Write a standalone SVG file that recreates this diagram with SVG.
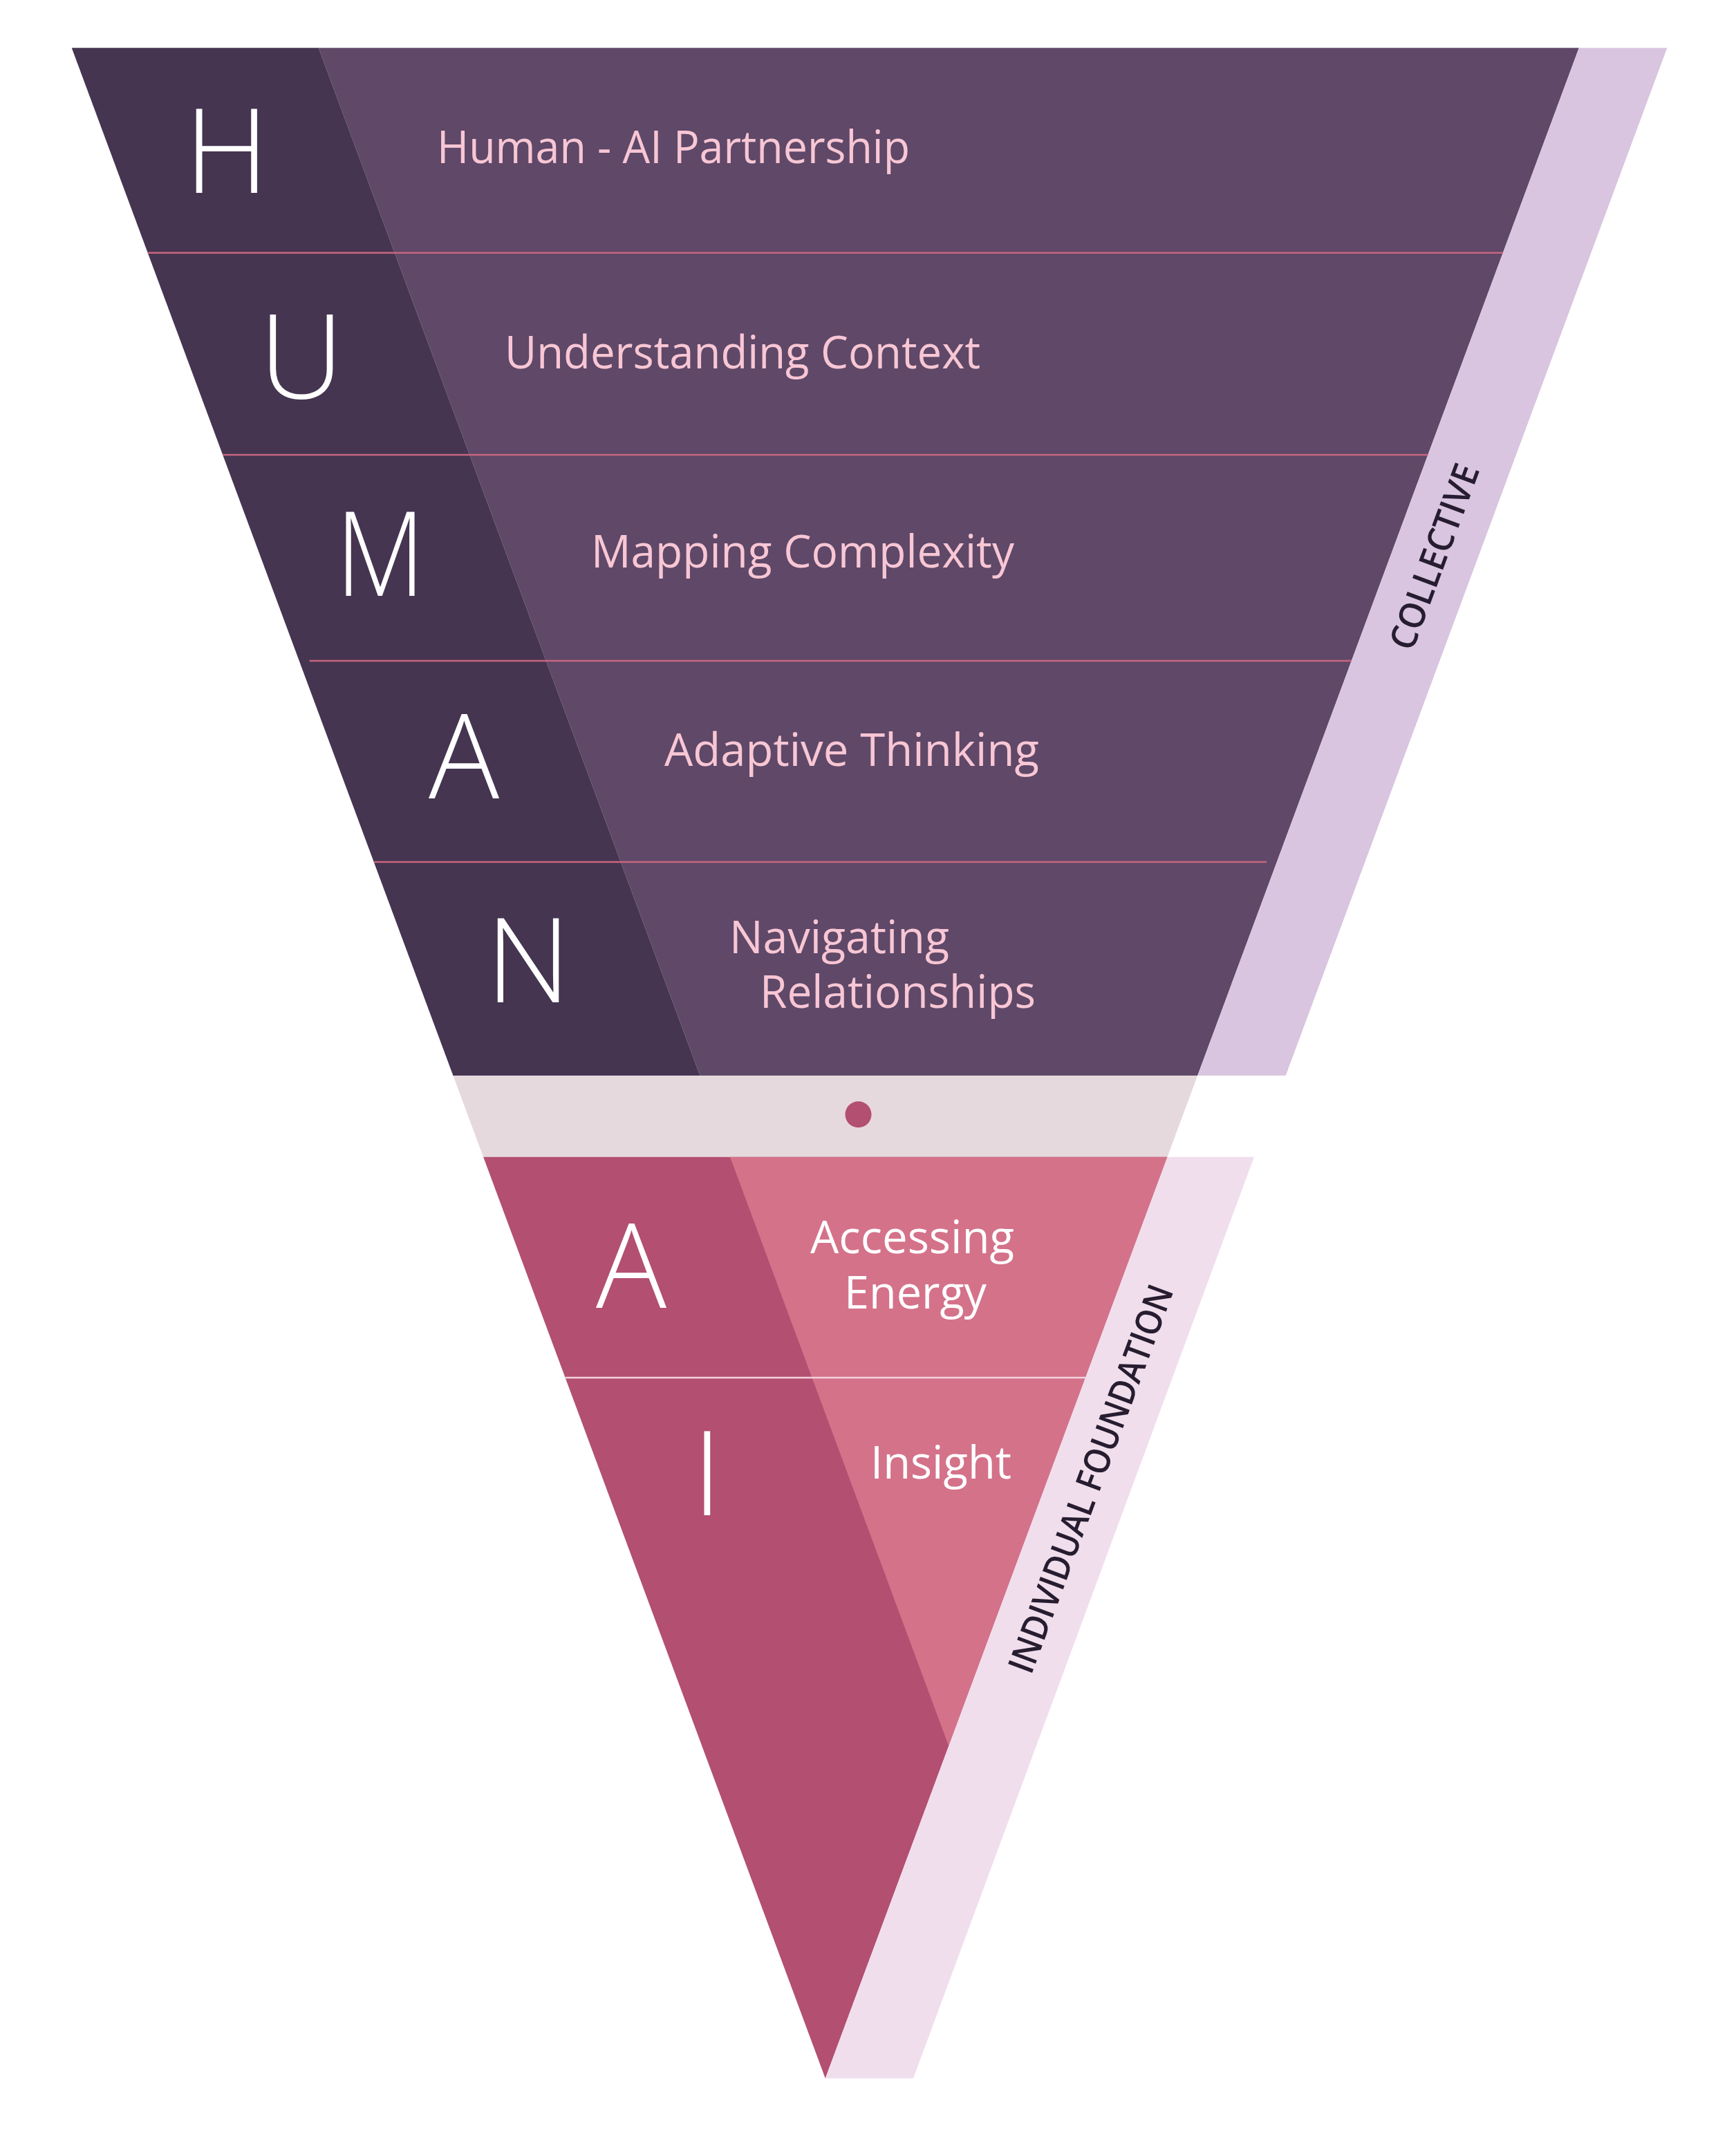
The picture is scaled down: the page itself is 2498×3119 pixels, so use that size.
<svg xmlns="http://www.w3.org/2000/svg" width="2498" height="3119" viewBox="0 0 2498 3119">
<style>
.big{font-family:"Open Sans","Lato","Liberation Sans",sans-serif;font-weight:300;font-size:170px;fill:#ffffff;text-anchor:middle}
.lbl{font-family:"Open Sans","Lato","Liberation Sans",sans-serif;font-weight:400;font-size:65px;fill:#f8c6d4}
.lblw{font-family:"Open Sans","Lato","Liberation Sans",sans-serif;font-weight:400;font-size:65px;fill:#ffffff}
.side{font-family:"Open Sans","Lato","Liberation Sans",sans-serif;font-weight:600;font-size:52px;fill:#271d30;text-anchor:middle}
.sep{stroke:#c8667f;stroke-width:2.5;fill:none}
.sepw{stroke:#f3d3de;stroke-width:2.5;fill:none}
</style>
<rect x="0" y="0" width="2498" height="3119" fill="#ffffff"/>
<g id="shapes">
  <polygon id="human-light" points="460.8,69.3 2283.9,69.3 1732.2,1556 1012.5,1556" fill="#5f4868"/>
  <polygon id="human-dark" points="103.7,69.3 460.8,69.3 1012.5,1556 655.4,1556" fill="#453551"/>
  <polygon id="collective-band" points="2283.9,69.3 2411.4,69.3 1859.7,1556 1732.2,1556" fill="#d9c5df"/>
  <polygon id="gap-band" points="655.4,1556 1732.2,1556 1688.5,1673.7 699.1,1673.7" fill="#e5d9de"/>
  <polygon id="ai-dark" points="699.1,1673.7 1688.5,1673.7 1193.8,3006.8" fill="#b34f71"/>
  <polygon id="ai-light" points="1056,1673.7 1688.5,1673.7 1372.3,2525.9" fill="#d4728a"/>
  <polygon id="individual-band" points="1688.5,1673.7 1814,1673.7 1321,3006.8 1193.8,3006.8" fill="#f1deec"/>
  <circle id="dot" cx="1241.5" cy="1612.3" r="19" fill="#b34f71"/>
</g>
<g id="connectors">
  <line class="sep" x1="213.7" y1="365.7" x2="2173.9" y2="365.7"/>
  <line class="sep" x1="322.2" y1="658" x2="2065.4" y2="658"/>
  <line class="sep" x1="447.7" y1="956" x2="1954.8" y2="956"/>
  <line class="sep" x1="540.8" y1="1247" x2="1832" y2="1247"/>
  <line class="sepw" x1="817.6" y1="1993" x2="1570" y2="1993"/>
</g>
<g id="node-h">
  <text class="big" x="328" y="279">H</text>
  <text class="lbl" x="632" y="236" textLength="684" lengthAdjust="spacingAndGlyphs">Human - AI Partnership</text>
</g>
<g id="node-u">
  <text class="big" x="436" y="576">U</text>
  <text class="lbl" x="730" y="533" textLength="688" lengthAdjust="spacingAndGlyphs">Understanding Context</text>
</g>
<g id="node-m">
  <text class="big" transform="translate(550,0) scale(0.88,1) translate(-550,0)" x="550" y="862">M</text>
  <text class="lbl" x="855" y="821" textLength="612" lengthAdjust="spacingAndGlyphs">Mapping Complexity</text>
</g>
<g id="node-a">
  <text class="big" x="671" y="1155">A</text>
  <text class="lbl" x="961" y="1108" textLength="542" lengthAdjust="spacingAndGlyphs">Adaptive Thinking</text>
</g>
<g id="node-n">
  <text class="big" x="764" y="1450">N</text>
  <text class="lbl" x="1055" y="1379" textLength="318" lengthAdjust="spacingAndGlyphs">Navigating</text>
  <text class="lbl" x="1099" y="1458" textLength="399" lengthAdjust="spacingAndGlyphs">Relationships</text>
</g>
<g id="node-ai-a">
  <text class="big" x="913" y="1892">A</text>
  <text class="lblw" x="1172" y="1813" textLength="295" lengthAdjust="spacingAndGlyphs">Accessing</text>
  <text class="lblw" x="1221" y="1893" textLength="206" lengthAdjust="spacingAndGlyphs">Energy</text>
</g>
<g id="node-ai-i">
  <text class="big" x="1023" y="2192">I</text>
  <text class="lblw" x="1259" y="2139" textLength="204" lengthAdjust="spacingAndGlyphs">Insight</text>
</g>
<g id="label-collective">
  <text class="side" transform="translate(2074,805) rotate(-69.64)" x="0" y="19" textLength="282" lengthAdjust="spacingAndGlyphs">COLLECTIVE</text>
</g>
<g id="label-individual">
  <text class="side" transform="translate(1577,2139) rotate(-69.64)" x="0" y="19" textLength="594" lengthAdjust="spacingAndGlyphs">INDIVIDUAL FOUNDATION</text>
</g>
</svg>
